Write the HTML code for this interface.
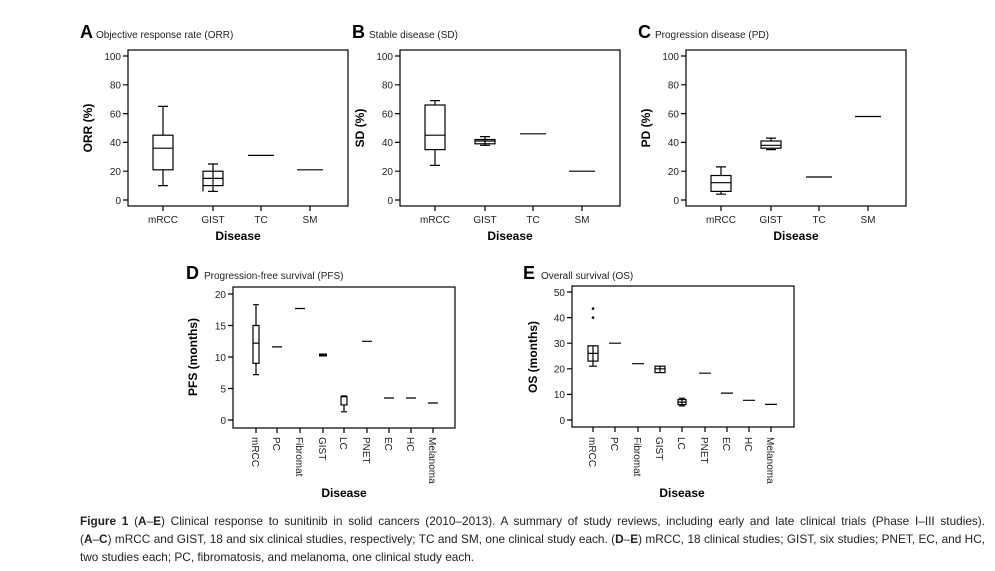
<!DOCTYPE html>
<html><head><meta charset="utf-8"><style>
body{margin:0;background:#fff;width:995px;height:571px;overflow:hidden;font-family:"Liberation Sans",sans-serif}
svg{position:absolute;left:0;top:0}
.t{font-size:10px;fill:#222}
.b{font-weight:bold;font-size:12px}
.L{font-weight:bold;font-size:18px}
.s{stroke:#000;stroke-width:1.2;fill:none}
#cap{position:absolute;left:80px;top:512px;width:905px;font-size:11.8px;line-height:18px;color:#222}
#cap div{white-space:nowrap;text-align:justify;text-align-last:justify}
#cap div.last{text-align-last:left}
</style></head><body>
<svg width="995" height="571" xmlns="http://www.w3.org/2000/svg">
<defs>
<g id="topaxis">
<rect class="s" x="128" y="50" width="220" height="156"/>
<path class="s" d="M123 56H128M123 84.8H128M123 113.6H128M123 142.4H128M123 171.2H128M123 200H128M163 206v5M213 206v5M261 206v5M310 206v5"/>
<g class="t" text-anchor="end"><text x="121" y="60">100</text><text x="121" y="88.5">80</text><text x="121" y="117.5">60</text><text x="121" y="146">40</text><text x="121" y="175">20</text><text x="121" y="204">0</text></g>
<g class="t" text-anchor="middle"><text x="163" y="223">mRCC</text><text x="213" y="223">GIST</text><text x="261" y="223">TC</text><text x="310" y="223">SM</text></g>
<text class="b" x="238" y="240" text-anchor="middle">Disease</text>
</g>
</defs>
<!-- A -->
<use href="#topaxis"/>
<text class="L" x="80" y="38">A</text><text class="t" x="96" y="38">Objective response rate (ORR)</text>
<text class="b" transform="translate(92,128) rotate(-90)" text-anchor="middle">ORR (%)</text>
<path class="s" d="M163 185.6V169.8M163 135.2V106.4M158 106.4h10M158 185.6h10M203 191.4V185.6M213 171.2V164M208 164h10M208 191.4h10M213 191.4V185.6M248 155.4h26M297 169.8h26"/>
<rect class="s" x="153" y="135.2" width="20" height="34.6"/><path class="s" d="M153 148.2h20"/>
<rect class="s" x="203" y="171.2" width="20" height="14.4"/><path class="s" d="M203 178.4h20M213 171.2v14.4"/>
<!-- B -->
<use href="#topaxis" x="272"/>
<text class="L" x="352" y="38">B</text><text class="t" x="369" y="38">Stable disease (SD)</text>
<text class="b" transform="translate(364,128) rotate(-90)" text-anchor="middle">SD (%)</text>
<path class="s" d="M435 165.4V149.6M435 105V100.6M430 100.6h10M430 165.4h10M485 145.3V136.6M480 136.6h10M480 145.3h10M520 133.8h26M569 171.2h26"/>
<rect class="s" x="425" y="105" width="20" height="44.6"/><path class="s" d="M425 135.2h20"/>
<rect class="s" x="475" y="139.5" width="20" height="4.3"/><path class="s" d="M475 141h20"/>
<!-- C -->
<use href="#topaxis" x="558"/>
<text class="L" x="638" y="38">C</text><text class="t" x="655" y="38">Progression disease (PD)</text>
<text class="b" transform="translate(650,128) rotate(-90)" text-anchor="middle">PD (%)</text>
<path class="s" d="M721 194.2V191.4M721 175.5V166.9M716 166.9h10M716 194.2h10M771 149.6V148.2M771 141V138.1M766 138.1h10M766 149.6h10M806 177h26M855 116.5h26"/>
<rect class="s" x="711" y="175.5" width="20" height="15.9"/><path class="s" d="M711 182.7h20"/>
<rect class="s" x="761" y="141" width="20" height="7.2"/><path class="s" d="M761 145.3h20"/>
<!-- D -->
<text class="L" x="186" y="279">D</text><text class="t" x="204" y="279">Progression-free survival (PFS)</text>
<rect class="s" x="233" y="287" width="222" height="141"/>
<path class="s" d="M228 294H233M228 325.5H233M228 357H233M228 388.5H233M228 420H233M256 428v5M277 428v5M300 428v5M323 428v5M344 428v5M367 428v5M389 428v5M411 428v5M433 428v5"/>
<g class="t" text-anchor="end"><text x="226" y="298">20</text><text x="226" y="329.5">15</text><text x="226" y="361">10</text><text x="226" y="392.5">5</text><text x="226" y="424">0</text></g>
<g class="t"><text transform="translate(252,437) rotate(90)">mRCC</text><text transform="translate(273,437) rotate(90)">PC</text><text transform="translate(296,437) rotate(90)">Fibromat</text><text transform="translate(319,437) rotate(90)">GIST</text><text transform="translate(340,437) rotate(90)">LC</text><text transform="translate(363,437) rotate(90)">PNET</text><text transform="translate(385,437) rotate(90)">EC</text><text transform="translate(407,437) rotate(90)">HC</text><text transform="translate(429,437) rotate(90)">Melanoma</text></g>
<text class="b" x="344" y="497" text-anchor="middle">Disease</text>
<text class="b" transform="translate(197,357) rotate(-90)" text-anchor="middle">PFS (months)</text>
<path class="s" d="M256 374.6V363.3M256 325.5V304.7M253 304.7h6M253 374.6h6M272 346.9h10M295 308.5h10M362 341.3h10M384 398h10M406 398h10M428 403h10M344 411.8V404.9M341 411.8h6M341 396h6"/>
<rect class="s" x="253" y="325.5" width="6" height="37.8"/><path class="s" d="M253 343.1h6"/>
<rect x="319" y="353.5" width="8" height="3" fill="#000"/>
<rect class="s" x="341" y="396.7" width="6" height="8.2"/>
<!-- E -->
<text class="L" x="523" y="279">E</text><text class="t" x="541" y="279">Overall survival (OS)</text>
<rect class="s" x="572" y="286" width="222" height="141"/>
<path class="s" d="M567 292H572M567 317.6H572M567 343.2H572M567 368.8H572M567 394.4H572M567 420H572M593 427v5M615 427v5M638 427v5M660 427v5M682 427v5M705 427v5M727 427v5M749 427v5M771 427v5"/>
<g class="t" text-anchor="end"><text x="565" y="296">50</text><text x="565" y="321.5">40</text><text x="565" y="347">30</text><text x="565" y="372.5">20</text><text x="565" y="398">10</text><text x="565" y="424">0</text></g>
<g class="t"><text transform="translate(589,437) rotate(90)">mRCC</text><text transform="translate(611,437) rotate(90)">PC</text><text transform="translate(634,437) rotate(90)">Fibromat</text><text transform="translate(656,437) rotate(90)">GIST</text><text transform="translate(678,437) rotate(90)">LC</text><text transform="translate(701,437) rotate(90)">PNET</text><text transform="translate(723,437) rotate(90)">EC</text><text transform="translate(745,437) rotate(90)">HC</text><text transform="translate(767,437) rotate(90)">Melanoma</text></g>
<text class="b" x="682" y="497" text-anchor="middle">Disease</text>
<text class="b" transform="translate(537,357) rotate(-90)" text-anchor="middle">OS (months)</text>
<rect class="s" x="588" y="345.8" width="10" height="15.3"/><path class="s" d="M588 353.4h10M593 345.8V366.2M589 366.2h8"/>
<circle cx="593" cy="317.6" r="1.3"/><circle cx="593" cy="308.6" r="1.3"/>
<path class="s" d="M609 343.2h12M632 363.7h12M699 373.2h12M721 393.1h12M743 400.3h12M765 404.4h12"/>
<rect class="s" x="655" y="366.2" width="10" height="6.4"/><path class="s" d="M655 368.8h10M660 366.2v6.4"/>
<rect class="s" x="678" y="399.5" width="8" height="5.1"/><path class="s" d="M678 402.1h8M682 398.2v7.7M679 398.2h6M679 405.9h6"/>
</svg>
<div id="cap"><div><b>Figure 1</b> (<b>A</b>–<b>E</b>) Clinical response to sunitinib in solid cancers (2010–2013). A summary of study reviews, including early and late clinical trials (Phase I–III studies).</div><div>(<b>A</b>–<b>C</b>) mRCC and GIST, 18 and six clinical studies, respectively; TC and SM, one clinical study each. (<b>D</b>–<b>E</b>) mRCC, 18 clinical studies; GIST, six studies; PNET, EC, and HC,</div><div class="last">two studies each; PC, fibromatosis, and melanoma, one clinical study each.</div></div>
</body></html>
